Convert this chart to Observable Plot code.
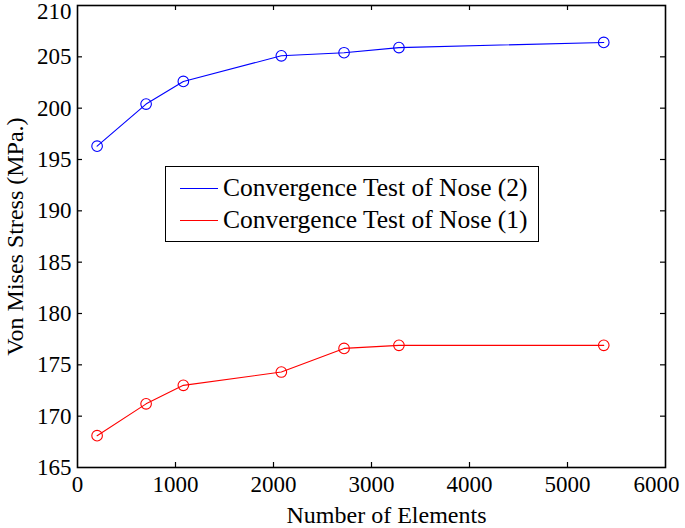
<!DOCTYPE html>
<html>
<head>
<meta charset="utf-8">
<script src="https://cdn.jsdelivr.net/npm/d3@7"></script>
<script src="https://cdn.jsdelivr.net/npm/@observablehq/plot@0.6"></script>
<style>
  html, body { margin: 0; padding: 0; background: #fff; }
  #wrap { position: relative; width: 685px; height: 528px; font-family: "Liberation Serif", "Times New Roman", serif; }
  #legend { position: absolute; left: 165px; top: 166px; width: 374px; height: 76px; border: 1px solid #000; background: #fff; box-sizing: border-box; }
  .row { position: absolute; left: 14px; height: 32px; display: flex; align-items: center; font-size: 25.5px; color: #000; white-space: nowrap; }
  .sw { width: 38px; height: 0; border-top: 1px solid; margin-right: 5px; }
</style>
</head>
<body>
<div id="wrap"></div>
<script>
const elements = [200, 700, 1080, 2080, 2720, 3280, 5370];
const nose2 = [196.3, 200.4, 202.6, 205.1, 205.4, 205.9, 206.4];
const nose1 = [168.1, 171.2, 173.0, 174.3, 176.6, 176.9, 176.9];
const seriesNames = ["Convergence Test of Nose (2)", "Convergence Test of Nose (1)"];
const seriesColors = ["#0000ff", "#ff0000"];
const xTicks = [0, 1000, 2000, 3000, 4000, 5000, 6000];
const yTicks = [165, 170, 175, 180, 185, 190, 195, 200, 205, 210];
const xLabel = "Number of Elements";
const yLabel = "Von Mises Stress (MPa.)";

const rows = [];
elements.forEach((e, i) => rows.push({series: seriesNames[0], x: e, y: nose2[i]}));
elements.forEach((e, i) => rows.push({series: seriesNames[1], x: e, y: nose1[i]}));

const innerX = xTicks.slice(1, -1);
const innerY = yTicks.slice(1, -1);
const H = 528, mt = 5, mb = 61, tick = 5;
const innerH = H - mt - mb;
const fam = '"Liberation Serif", "Times New Roman", serif';

const chart = Plot.plot({
  width: 685,
  height: H,
  marginLeft: 77,
  marginRight: 20,
  marginTop: mt,
  marginBottom: mb,
  style: {fontFamily: fam, fontSize: "23px", color: "#000", background: "#fff"},
  x: {domain: [0, 6000]},
  y: {domain: [165, 210]},
  color: {domain: seriesNames, range: seriesColors},
  marks: [
    Plot.axisX({ticks: xTicks.slice(0, -1), tickSize: 0, tickPadding: 8, label: null, fontSize: 23, fontFamily: fam, tickFormat: d => String(d)}),
    Plot.axisX({ticks: xTicks.slice(-1), tickSize: 0, tickPadding: 8, label: null, fontSize: 23, fontFamily: fam, dx: -9, tickFormat: d => String(d)}),
    Plot.axisY({ticks: yTicks.slice(0, -1), tickSize: 0, tickPadding: 6, label: null, fontSize: 23, fontFamily: fam, tickFormat: d => String(d)}),
    Plot.axisY({ticks: yTicks.slice(-1), tickSize: 0, tickPadding: 6, label: null, fontSize: 23, fontFamily: fam, dy: 6, tickFormat: d => String(d)}),
    Plot.tickX(innerX, {x: d => d, insetTop: innerH - tick, stroke: "#000", strokeWidth: 1.2}),
    Plot.tickX(innerX, {x: d => d, insetBottom: innerH - tick, stroke: "#000", strokeWidth: 1.2}),
    Plot.tickY(innerY, {y: d => d, insetRight: 588 - tick, stroke: "#000", strokeWidth: 1.2}),
    Plot.tickY(innerY, {y: d => d, insetLeft: 588 - tick, stroke: "#000", strokeWidth: 1.2}),
    Plot.line(rows, {x: "x", y: "y", z: "series", stroke: "series", strokeWidth: 1.1}),
    Plot.dot(rows, {x: "x", y: "y", stroke: "series", r: 5.3, strokeWidth: 1.1, fill: "none"}),
    Plot.frame({stroke: "#000", strokeWidth: 1.6}),
    Plot.text([xLabel], {frameAnchor: "bottom", textAnchor: "middle", dy: 55, dx: 15, fontSize: 24, fontFamily: fam, fill: "#000"}),
    Plot.text([yLabel], {frameAnchor: "left", textAnchor: "middle", dx: -62, rotate: -90, fontSize: 24, fontFamily: fam, fill: "#000"})
  ]
});

const wrap = document.getElementById("wrap");
wrap.appendChild(chart);

const legend = document.createElement("div");
legend.id = "legend";
seriesNames.forEach((name, i) => {
  const row = document.createElement("div");
  row.className = "row";
  row.style.top = (5 + i * 32) + "px";
  const sw = document.createElement("span");
  sw.className = "sw";
  sw.style.borderColor = seriesColors[i];
  const t = document.createElement("span");
  t.textContent = name;
  row.appendChild(sw);
  row.appendChild(t);
  legend.appendChild(row);
});
wrap.appendChild(legend);
</script>
</body>
</html>
